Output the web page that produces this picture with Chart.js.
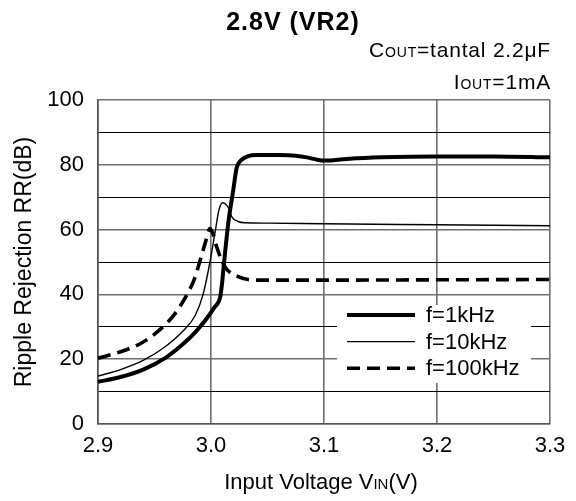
<!DOCTYPE html>
<html>
<head>
<meta charset="utf-8">
<script src="https://cdn.jsdelivr.net/npm/chart.js@4.4.1/dist/chart.umd.min.js"></script>
<style>
  html, body { margin: 0; padding: 0; background: #fff; }
  #wrap { position: relative; width: 576px; height: 501px; }
</style>
</head>
<body>
<div id="wrap"><canvas id="c" width="576" height="501"></canvas></div>
<script>
// values (VIN in volts, RR in dB)
const vin1k = [2.90, 2.92, 2.94, 2.96, 2.975, 2.986, 2.995, 3.003, 3.008, 3.0095, 3.0115, 3.0153, 3.0197, 3.0227, 3.027, 3.033, 3.04, 3.06, 3.075, 3.085, 3.095, 3.10, 3.12, 3.15, 3.20, 3.25, 3.30];
const rr1k  = [13.0, 14.5, 16.8, 20.5, 24.6, 28.3, 32.0, 36.0, 39.0, 42.5, 49.6, 62.0, 72.2, 79.0, 81.5, 82.7, 83.0, 83.0, 82.8, 82.3, 81.5, 81.3, 81.8, 82.3, 82.6, 82.6, 82.3];

const vin10k = [2.90, 2.92, 2.94, 2.96, 2.975, 2.986, 2.993, 2.9991, 3.004, 3.007, 3.0103, 3.013, 3.0157, 3.0183, 3.024, 3.03, 3.05, 3.10, 3.20, 3.30];
const rr10k  = [14.8, 16.8, 19.6, 24.0, 28.6, 33.5, 40.0, 50.0, 60.0, 66.0, 68.3, 67.8, 66.5, 64.0, 62.5, 62.1, 62.0, 61.8, 61.5, 61.2];

const vin100k = [2.90, 2.92, 2.94, 2.956, 2.968, 2.978, 2.985, 2.990, 2.995, 2.9991, 3.002, 3.005, 3.0124, 3.024, 3.04, 3.10, 3.20, 3.30];
const rr100k  = [20.3, 22.3, 25.3, 29.5, 34.0, 39.5, 44.5, 50.0, 56.0, 60.3, 58.5, 54.7, 48.5, 45.5, 44.4, 44.4, 44.5, 44.6];

const seriesLabels = ["f=1kHz", "f=10kHz", "f=100kHz"];
const xTicks = [2.9, 3.0, 3.1, 3.2, 3.3];
const yTicks = [0, 20, 40, 60, 80, 100];

const FONT = "'Liberation Sans', Arial, sans-serif";

function pts(xs, ys) {
  return xs.map((x, i) => ({ x: x, y: ys[i] }));
}

// text with small-caps style subscript parts: [[text, isSmall], ...]
function drawParts(ctx, parts, x, y, size, align, spacing) {
  ctx.letterSpacing = (spacing || 0) + "px";
  let total = 0;
  parts.forEach((p) => {
    ctx.font = (p[1] ? Math.round(size * 0.66) : size) + "px " + FONT;
    total += ctx.measureText(p[0]).width;
  });
  let cx = align === "right" ? x - total : align === "center" ? x - total / 2 : x;
  ctx.textAlign = "left";
  ctx.textBaseline = "alphabetic";
  parts.forEach((p) => {
    ctx.font = (p[1] ? Math.round(size * 0.66) : size) + "px " + FONT;
    ctx.fillText(p[0], cx, y);
    cx += ctx.measureText(p[0]).width;
  });
  ctx.letterSpacing = "0px";
}

const textPlugin = {
  id: "texts",
  afterDraw(chart) {
    const ctx = chart.ctx;
    const a = chart.chartArea;
    ctx.save();
    ctx.fillStyle = "#000";
    // title
    ctx.font = "bold 25px " + FONT;
    ctx.letterSpacing = "1px";
    ctx.textAlign = "center";
    ctx.textBaseline = "alphabetic";
    ctx.fillText("2.8V (VR2)", 293, 30);
    ctx.letterSpacing = "0px";
    // conditions
    drawParts(ctx, [["C", 0], ["OUT", 1], ["=tantal 2.2\u03BCF", 0]], a.right + 1, 57, 21, "right", 0.8);
    drawParts(ctx, [["I", 0], ["OUT", 1], ["=1mA", 0]], a.right + 1, 89, 21, "right", 0.8);
    // x axis title
    drawParts(ctx, [["Input Voltage V", 0], ["IN", 1], ["(V)", 0]], 321, 489, 22, "center", 0);
    // y axis title
    ctx.translate(31, (a.top + a.bottom) / 2);
    ctx.rotate(-Math.PI / 2);
    ctx.font = "23px " + FONT;
    ctx.textAlign = "center";
    ctx.textBaseline = "alphabetic";
    ctx.fillText("Ripple Rejection RR(dB)", 0, 0);
    ctx.restore();

    // legend box inside the plot
    ctx.save();
    const lx = 337, ly = 305, lw = 194, lh = 78;
    ctx.fillStyle = "#fff";
    ctx.fillRect(lx, ly, lw, lh);
    chart.data.datasets.forEach((ds, i) => {
      const y = ly + 10 + i * 26.6;
      ctx.strokeStyle = "#000";
      ctx.lineWidth = ds.borderWidth;
      ctx.setLineDash(ds.borderDash || []);
      ctx.beginPath();
      ctx.moveTo(lx + 10, y);
      ctx.lineTo(lx + 78, y);
      ctx.stroke();
      ctx.setLineDash([]);
      ctx.fillStyle = "#000";
      ctx.font = "22px " + FONT;
      ctx.textAlign = "left";
      ctx.textBaseline = "middle";
      ctx.fillText(ds.label, lx + 89, y + 1);
    });
    ctx.restore();
  },
};

new Chart(document.getElementById("c"), {
  type: "line",
  data: {
    datasets: [
      { label: seriesLabels[0], data: pts(vin1k, rr1k), borderColor: "#000", borderWidth: 4, cubicInterpolationMode: "monotone" },
      { label: seriesLabels[1], data: pts(vin10k, rr10k), borderColor: "#000", borderWidth: 1.4, cubicInterpolationMode: "monotone" },
      { label: seriesLabels[2], data: pts(vin100k, rr100k), borderColor: "#000", borderWidth: 3.6, borderDash: [13, 7], cubicInterpolationMode: "monotone" },
    ],
  },
  options: {
    responsive: false,
    animation: false,
    events: [],
    elements: { point: { radius: 0 } },
    layout: { padding: { top: 100, right: 26, left: 0, bottom: 0 } },
    plugins: { legend: { display: false }, tooltip: { enabled: false } },
    scales: {
      x: {
        type: "linear",
        min: xTicks[0],
        max: xTicks[xTicks.length - 1],
        afterFit(s) { s.height = 77; },
        afterBuildTicks(s) { s.ticks = xTicks.map((v) => ({ value: v })); },
        ticks: {
          color: "#000",
          font: { family: FONT, size: 22 },
          padding: 9,
          maxRotation: 0,
          callback: (v) => v.toFixed(1),
        },
        grid: { color: "#6e6e6e", lineWidth: 1.6, drawTicks: false },
        border: { color: "#555", width: 1.6 },
      },
      y: {
        min: 0,
        max: 100,
        afterFit(s) { s.width = 98; },
        afterBuildTicks(s) {
          const t = [];
          for (let v = 0; v <= 100; v += 10) t.push({ value: v });
          s.ticks = t;
        },
        ticks: {
          color: "#000",
          font: { family: FONT, size: 22 },
          padding: 14,
          autoSkip: false,
          callback: (v) => (yTicks.includes(v) ? String(v) : ""),
        },
        grid: {
          drawTicks: false,
          color: (c) => (c.tick && c.tick.value % 20 === 0 ? "#6e6e6e" : "#000"),
          lineWidth: (c) => (c.tick && c.tick.value % 20 === 0 ? 1.6 : 1),
        },
        border: { color: "#555", width: 1.6 },
      },
    },
  },
  plugins: [textPlugin],
});
</script>
</body>
</html>
